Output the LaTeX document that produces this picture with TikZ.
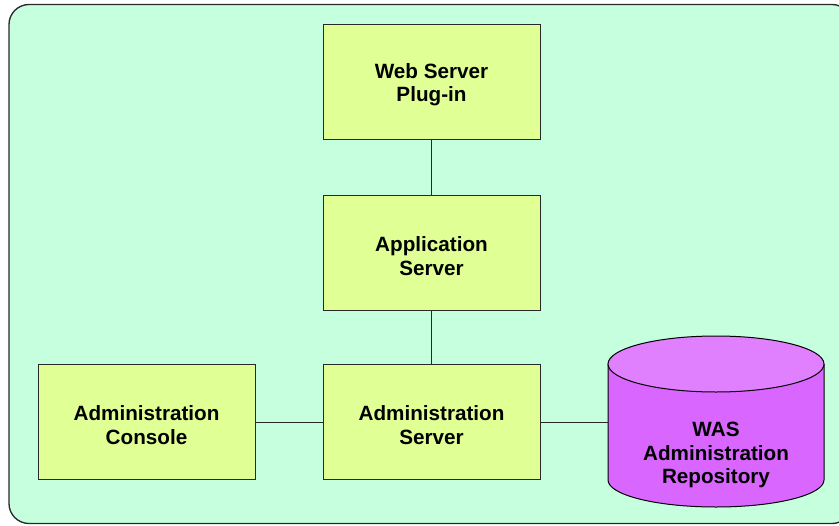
\documentclass[tikz,border=0pt]{standalone}
\usepackage{fontspec}
\setmainfont{Liberation Sans}
\usepackage{tikz}
\usepackage{color}
\usetikzlibrary{positioning}

\definecolor{mintbg}{RGB}{198,255,222}
\definecolor{boxfill}{RGB}{224,255,148}
\definecolor{repobody}{RGB}{217,102,255}
\definecolor{repotop}{RGB}{224,128,255}
\definecolor{edgegray}{RGB}{40,40,40}

\tikzset{
  compbox/.style={draw=edgegray,fill=boxfill,line width=0.75pt,minimum width=162.75pt,minimum height=86.25pt,inner sep=0.75pt,text height=33.5pt,align=center,font=\fontsize{15.5}{17.7}\selectfont\bfseries},
  link/.style={draw=edgegray,line width=0.75pt}
}

\begin{document}
\begin{tikzpicture}[x=0.75pt,y=0.75pt,yscale=-1,xscale=1]
\useasboundingbox (0,0) rectangle (839,525);

% background panel
\begin{scope}
\clip (0,0) rectangle (839,525);
\draw [draw=edgegray,fill=mintbg,line width=1pt,rounded corners=15pt] (9,4.5) rectangle (852,523.5);
\end{scope}

% repository cylinder
\draw [draw=black,fill=repobody,line width=0.75pt] (608,364) -- (608,480) arc[start angle=180,end angle=0,x radius=108,y radius=27] -- (824,364) ;
\draw [draw=black,fill=repotop,line width=0.75pt] (716,364) ellipse [x radius=108,y radius=28];

\node [compbox] (web) at (431.5,81.5) {Web Server\\Plug-in};
\node [compbox] (app) at (431.5,253) {Application\\Server};
\node [compbox] (admsrv) at (431.5,422) {Administration\\Server};
\node [compbox] (console) at (146.5,422) {Administration\\Console};
\node [minimum width=162pt,minimum height=87pt,inner sep=0pt] (repo) at (716,422) {};
\node [align=center,inner sep=0.75pt,font=\fontsize{15.5}{17.7}\selectfont\bfseries] (repotext) at (716,455) {WAS\\Administration\\Repository};

\draw [link] (web) -- (app);
\draw [link] (app) -- (admsrv);
\draw [link] (console) -- (admsrv);
\draw [link] (admsrv) -- (repo);

\end{tikzpicture}
\end{document}
